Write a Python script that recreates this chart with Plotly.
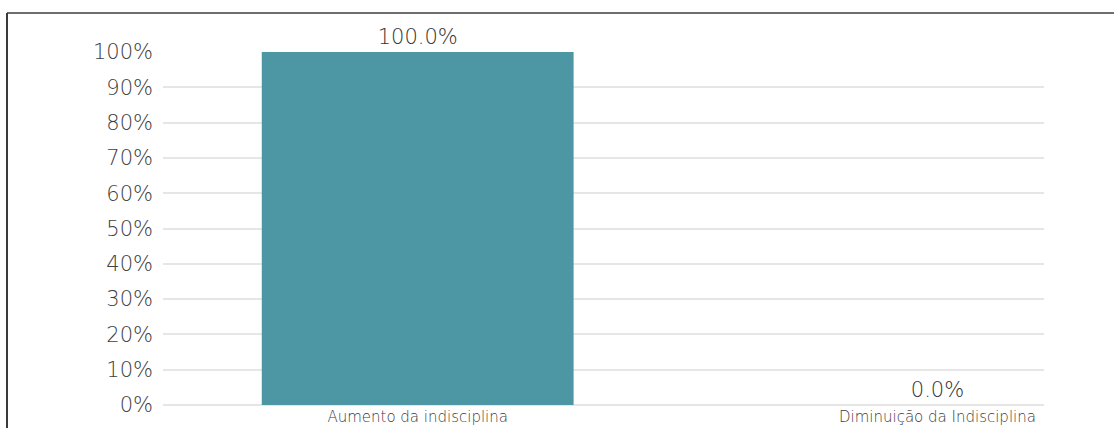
import plotly.graph_objects as go

categorias = ["Aumento da indisciplina", "Diminuição da Indisciplina"]
percentuais = [100.0, 0.0]
ticks_y = [0, 10, 20, 30, 40, 50, 60, 70, 80, 90, 100]
rotulos_y = [f"{v}%" for v in ticks_y]

W, H = 1114, 428
left, right, top, bottom = 163, 1044, 52, 405
FONTE = "DejaVu Sans"

fig = go.Figure(
    go.Bar(
        x=categorias,
        y=percentuais,
        width=0.6,
        marker=dict(color="#4d97a5", line=dict(width=0)),
        texttemplate="%{y:.1f}%",
        textposition="outside",
        textfont=dict(family=FONTE, size=21, color="#333333", weight=200),
        cliponaxis=False,
        hoverinfo="skip",
    )
)

# frame lines along the top and left edges of the page
fx = lambda px: (px - left) / (right - left)
fy = lambda py: (bottom - py) / (bottom - top)
fig.add_shape(type="line", xref="paper", yref="paper",
              x0=fx(7), x1=fx(W), y0=fy(13), y1=fy(13),
              line=dict(color="#6e6e6e", width=2))
fig.add_shape(type="line", xref="paper", yref="paper",
              x0=fx(7), x1=fx(7), y0=fy(13), y1=fy(H + 5),
              line=dict(color="#3a3a3a", width=2))

fig.update_layout(
    width=W, height=H,
    margin=dict(l=left, r=W - right, t=top, b=H - bottom, pad=0, autoexpand=False),
    paper_bgcolor="white",
    plot_bgcolor="white",
    showlegend=False,
    bargap=0.4,
    xaxis=dict(
        type="category",
        range=[-0.49, 1.205],
        automargin=False,
        showgrid=False,
        showline=False,
        zeroline=False,
        ticks="",
        tickfont=dict(family=FONTE, size=15, color="#3c3c3c", weight=200),
        ticklabelstandoff=1,
    ),
    yaxis=dict(
        range=[0, 100],
        automargin=False,
        tickvals=ticks_y,
        ticktext=rotulos_y,
        showgrid=True,
        gridcolor="#e6e6e6",
        gridwidth=2,
        zeroline=True,
        zerolinecolor="#e6e6e6",
        zerolinewidth=2,
        showline=False,
        ticks="",
        tickfont=dict(family=FONTE, size=21, color="#404040", weight=200),
        ticklabelstandoff=9,
    ),
)

fig.write_html("out.html")
